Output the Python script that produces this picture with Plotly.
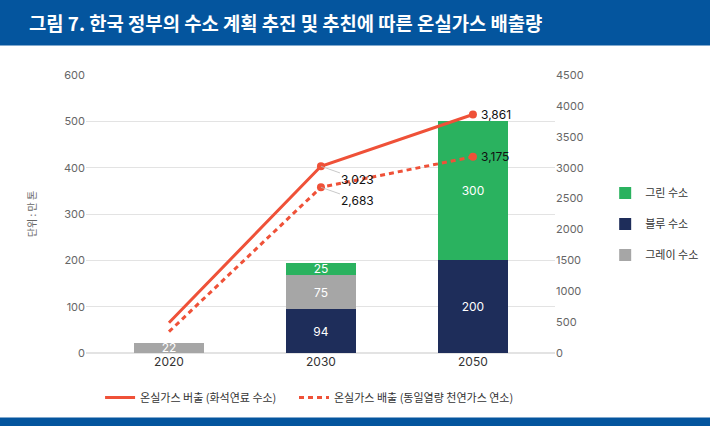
import plotly.graph_objects as go

# data
years = ["2020", "2030", "2050"]
blue_h2 = [0, 94, 200]
gray_h2 = [22, 75, 0]
green_h2 = [0, 25, 300]
emission_fossil = [490, 3023, 3861]
emission_lng = [345, 2683, 3175]

font = "Inter, Noto Sans CJK KR, sans-serif"
kr_font = "Noto Sans CJK KR, sans-serif"
red = "#ef5138"
pos = list(range(len(years)))


def bar_text(vals):
    return [str(v) if v else "" for v in vals]


fig = go.Figure()

fig.add_trace(go.Bar(x=pos, y=blue_h2, name="블루 수소", marker_color="#1e2d5a",
                     text=bar_text(blue_h2), legendrank=2, legendgroup="b"))
fig.add_trace(go.Bar(x=pos, y=gray_h2, name="그레이 수소", marker_color="#a6a6a6",
                     text=bar_text(gray_h2), legendrank=3, legendgroup="g"))
fig.add_trace(go.Bar(x=pos, y=green_h2, name="그린 수소", marker_color="#2ab25f",
                     text=bar_text(green_h2), legendrank=1, legendgroup="gr"))
fig.update_traces(selector=dict(type="bar"), width=0.46, textposition="inside",
                  insidetextanchor="middle", textangle=0,
                  insidetextfont=dict(color="white", size=12, family=font),
                  marker_line_width=0)

lines = ((emission_fossil, "solid", "온실가스 버출 (화석연료 수소)", "legend2"),
         (emission_lng, "5px,4px", "온실가스 배출 (동일열량 천연가스 연소)", "legend3"))
for vals, dash, name, leg in lines:
    fig.add_trace(go.Scatter(x=pos, y=vals, yaxis="y2", mode="lines+markers",
                             showlegend=False, line=dict(color=red, width=3, dash=dash),
                             marker=dict(size=[0, 8, 8], color=red, opacity=1,
                                         line=dict(width=0))))
    # legend-only entry with a plain line symbol
    fig.add_trace(go.Scatter(x=[None], y=[None], yaxis="y2", mode="lines", name=name,
                             legend=leg, line=dict(color=red, width=3, dash=dash)))

# value labels on the lines
for vals in (emission_fossil, emission_lng):
    fig.add_annotation(x=pos[1], y=vals[1], xref="x", yref="y2", text=f"{vals[1]:,}",
                       showarrow=True, arrowhead=0, arrowwidth=0.8,
                       arrowcolor="#bbbbbb", ax=37, ay=13,
                       font=dict(family=font, size=12, color="#111"))
    fig.add_annotation(x=pos[2], y=vals[2], xref="x", yref="y2", text=f"{vals[2]:,}",
                       showarrow=False, xanchor="left", xshift=6,
                       font=dict(family=font, size=12, color="#111"))

# banner and bottom strip (paper coords from plot area 86..555 x 75.5..353.5)
fig.add_shape(type="rect", xref="paper", yref="paper", x0=-0.19, x1=1.34,
              y0=1.106, y1=1.28, fillcolor="#04559e", line_width=0, layer="below")
fig.add_shape(type="rect", xref="paper", yref="paper", x0=-0.19, x1=1.34,
              y0=-0.232, y1=-0.27, fillcolor="#04559e", line_width=0, layer="below")
fig.add_annotation(xref="paper", yref="paper", x=-0.126, y=1.189, xanchor="left",
                   yanchor="middle", showarrow=False,
                   text="<b>그림 7. 한국 정부의 수소 계획 추진 및 추친에 따른 온실가스 배출량</b>",
                   font=dict(family=kr_font, size=18.8, color="white"))

bottom_legend = dict(orientation="h", y=-0.16, xanchor="left", yanchor="middle",
                     font=dict(family=kr_font, size=11, color="#333"))

fig.update_layout(
    width=710, height=426,
    margin=dict(l=86, r=155, t=75, b=73, autoexpand=False),
    paper_bgcolor="white", plot_bgcolor="white",
    barmode="stack",
    font=dict(family=font, size=11, color="#555"),
    uniformtext=dict(minsize=11, mode="show"),
    xaxis=dict(range=[-0.546, 2.54], tickvals=pos, ticktext=years, showgrid=False,
               showline=False, zeroline=False, ticks="",
               tickfont=dict(size=12, color="#333")),
    yaxis=dict(range=[0, 600], dtick=100, showgrid=True, gridcolor="#e3e3e3",
               gridwidth=1, zeroline=True, zerolinecolor="#e3e3e3",
               tickfont=dict(size=11, color="#666"), ticks="",
               title=dict(text="단위 : 만 톤", font=dict(family=kr_font, size=10, color="#666"),
                          standoff=25)),
    yaxis2=dict(range=[0, 4500], dtick=500, overlaying="y", side="right",
                showgrid=False, zeroline=False, ticks="",
                tickfont=dict(size=11, color="#666")),
    legend=dict(x=1.107, y=0.464, xanchor="left", yanchor="middle",
                traceorder="grouped", tracegroupgap=12,
                font=dict(family=kr_font, size=11, color="#333")),
    legend2=dict(bottom_legend, x=0.03),
    legend3=dict(bottom_legend, x=0.4435),
)

fig.write_html("out.html", config={"displayModeBar": False},
               post_script="document.body.style.margin='0';")
